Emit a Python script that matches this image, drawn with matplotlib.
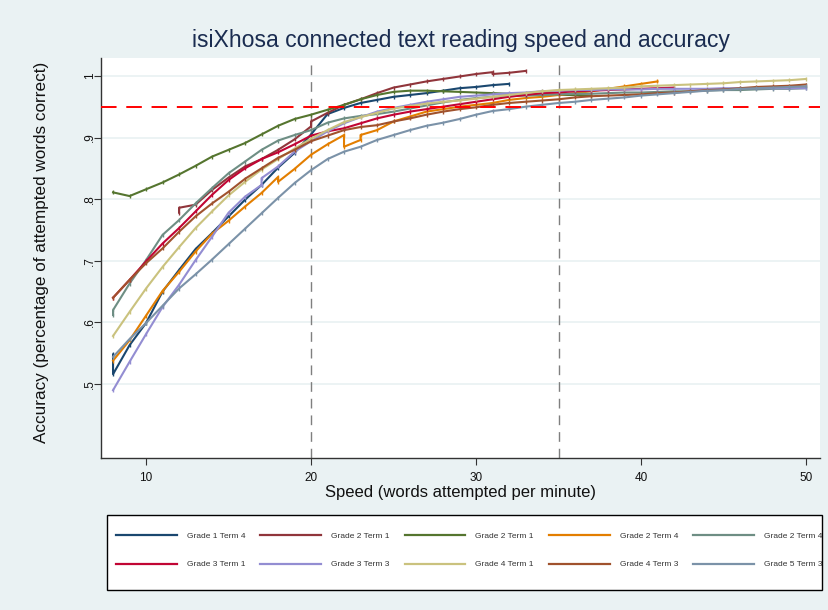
import matplotlib
matplotlib.use("Agg")
import matplotlib.pyplot as plt
from matplotlib.lines import Line2D
from matplotlib.patches import Rectangle

plt.rcParams['font.family'] = ['Liberation Sans', 'DejaVu Sans']

title = "isiXhosa connected text reading speed and accuracy"
xlabel = "Speed (words attempted per minute)"
ylabel = "Accuracy (percentage of attempted words correct)"

labels = ["Grade 1 Term 4", "Grade 2 Term 1", "Grade 2 Term 1", "Grade 2 Term 4", "Grade 2 Term 4",
          "Grade 3 Term 1", "Grade 3 Term 3", "Grade 4 Term 1", "Grade 4 Term 3", "Grade 5 Term 3"]
colors = ["#1a476f", "#90353b", "#55752f", "#e37e00", "#6e8e84",
          "#c10534", "#938dd2", "#cac27e", "#a0522d", "#7b92a8"]

g1t4_speed = [8, 8] + list(range(9, 33))
g1t4_acc = [0.548, 0.516, 0.563, 0.599, 0.650, 0.685, 0.719, 0.745, 0.772, 0.799, 0.823, 0.851,
            0.875, 0.905, 0.938, 0.948, 0.956, 0.961, 0.966, 0.969, 0.972, 0.976, 0.980, 0.982,
            0.985, 0.987]

g2t1a_speed = [12, 12] + list(range(13, 21)) + [20] + list(range(21, 32)) + [31, 32, 33]
g2t1a_acc = [0.778, 0.786, 0.791, 0.815, 0.835, 0.853, 0.865, 0.880, 0.897, 0.918, 0.926,
             0.940, 0.953, 0.962, 0.972, 0.981, 0.986, 0.991, 0.995, 0.999, 1.003, 1.006,
             1.003, 1.005, 1.008]

g2t1b_speed = list(range(8, 38))
g2t1b_acc = [0.811, 0.805, 0.816, 0.827, 0.840, 0.854, 0.869, 0.880, 0.891, 0.905, 0.919,
             0.930, 0.937, 0.945, 0.953, 0.962, 0.969, 0.974, 0.976, 0.976, 0.975, 0.974,
             0.973, 0.972, 0.971, 0.970, 0.970, 0.969, 0.969, 0.968]

g2t4a_speed = list(range(8, 19)) + [18] + list(range(19, 23)) + [22, 23] + list(range(23, 42))
g2t4a_acc = [0.538, 0.571, 0.611, 0.651, 0.682, 0.715, 0.744, 0.765, 0.788, 0.810, 0.836,
             0.828, 0.849, 0.872, 0.889, 0.904, 0.885, 0.896, 0.904, 0.912, 0.926, 0.934,
             0.942, 0.946, 0.950, 0.953, 0.956, 0.961, 0.964, 0.966, 0.969, 0.972, 0.975,
             0.979, 0.983, 0.987, 0.991]

g2t4b_speed = [8] + list(range(8, 51))
g2t4b_acc = [0.612, 0.620, 0.663, 0.701, 0.742, 0.766, 0.793, 0.818, 0.842, 0.861, 0.880,
             0.895, 0.904, 0.912, 0.924, 0.931, 0.935, 0.938, 0.942, 0.947, 0.952, 0.957,
             0.961, 0.964, 0.966, 0.967, 0.968, 0.969, 0.970, 0.971, 0.971, 0.972, 0.973,
             0.973, 0.974, 0.975, 0.975, 0.976, 0.977, 0.977, 0.978, 0.979, 0.979, 0.980]

g3t1_speed = list(range(8, 43))
g3t1_acc = [0.640, 0.669, 0.699, 0.728, 0.753, 0.780, 0.807, 0.831, 0.850, 0.865, 0.876,
            0.889, 0.903, 0.910, 0.915, 0.923, 0.931, 0.937, 0.942, 0.946, 0.950, 0.954,
            0.958, 0.962, 0.966, 0.969, 0.972, 0.973, 0.975, 0.976, 0.977, 0.978, 0.979,
            0.980, 0.981]

g3t3_speed = list(range(8, 18)) + list(range(17, 51))
g3t3_acc = [0.490, 0.536, 0.581, 0.625, 0.661, 0.701, 0.739, 0.778, 0.804, 0.823, 0.834,
            0.853, 0.877, 0.894, 0.910, 0.923, 0.933, 0.942, 0.948, 0.953, 0.958, 0.962,
            0.966, 0.968, 0.970, 0.972, 0.973, 0.975, 0.976, 0.977, 0.977, 0.978, 0.978,
            0.978, 0.979, 0.979, 0.979, 0.979, 0.980, 0.980, 0.980, 0.980, 0.980, 0.980]

g4t1_speed = list(range(8, 51))
g4t1_acc = [0.578, 0.617, 0.655, 0.690, 0.722, 0.753, 0.780, 0.806, 0.828, 0.848, 0.865,
            0.882, 0.898, 0.912, 0.925, 0.933, 0.940, 0.947, 0.951, 0.955, 0.958, 0.960,
            0.963, 0.966, 0.969, 0.972, 0.975, 0.977, 0.978, 0.979, 0.980, 0.981, 0.983,
            0.984, 0.985, 0.986, 0.987, 0.988, 0.990, 0.991, 0.992, 0.993, 0.995]

g4t3_speed = list(range(8, 51))
g4t3_acc = [0.640, 0.669, 0.696, 0.720, 0.747, 0.772, 0.793, 0.812, 0.833, 0.850, 0.867,
            0.880, 0.894, 0.903, 0.912, 0.917, 0.920, 0.926, 0.931, 0.937, 0.942, 0.946,
            0.949, 0.953, 0.956, 0.958, 0.960, 0.962, 0.965, 0.967, 0.968, 0.969, 0.970,
            0.972, 0.973, 0.975, 0.977, 0.978, 0.980, 0.982, 0.983, 0.984, 0.986]

g5t3_speed = list(range(8, 51))
g5t3_acc = [0.544, 0.573, 0.599, 0.627, 0.655, 0.678, 0.702, 0.727, 0.752, 0.777, 0.802,
            0.826, 0.847, 0.865, 0.877, 0.885, 0.896, 0.904, 0.912, 0.919, 0.924, 0.930,
            0.937, 0.943, 0.946, 0.950, 0.953, 0.956, 0.958, 0.961, 0.963, 0.965, 0.968,
            0.970, 0.972, 0.974, 0.976, 0.977, 0.979, 0.980, 0.981, 0.982, 0.983]

series_speed = [g1t4_speed, g2t1a_speed, g2t1b_speed, g2t4a_speed, g2t4b_speed,
                g3t1_speed, g3t3_speed, g4t1_speed, g4t3_speed, g5t3_speed]
series_acc = [g1t4_acc, g2t1a_acc, g2t1b_acc, g2t4a_acc, g2t4b_acc,
              g3t1_acc, g3t3_acc, g4t1_acc, g4t3_acc, g5t3_acc]

threshold_acc = 0.95
ref_speeds = [20, 35]
xticks = [10, 20, 30, 40, 50]
yticks = [0.5, 0.6, 0.7, 0.8, 0.9, 1.0]
yticklabels = [".5", ".6", ".7", ".8", ".9", "1"]

BG = "#eaf2f3"
W, H = 829, 610
fig = plt.figure(figsize=(W / 100, H / 100), dpi=100, facecolor=BG)
ax = fig.add_axes([101 / W, 1 - 458 / H, (820 - 101) / W, 400 / H])
ax.set_facecolor("white")

for yt in yticks:
    ax.axhline(yt, color=BG, lw=1.3, zorder=0)

for sp, ac, c in zip(series_speed, series_acc, colors):
    ax.plot(sp, ac, color=c, lw=1.5, marker="|", ms=3, mew=1, zorder=3)

for rs in ref_speeds:
    ax.axvline(rs, color="#7f7f7f", lw=1.0, dashes=(7, 5), zorder=2)
ax.axhline(threshold_acc, color="#ff0000", lw=1.4, dashes=(8, 5), zorder=4)

ax.set_xlim(7.27, 50.85)
ax.set_ylim(0.380, 1.029)
ax.set_xticks(xticks)
ax.set_yticks(yticks)
ax.set_yticklabels(yticklabels, rotation=90, va="center")
ax.tick_params(axis="both", direction="out", length=5, width=0.8, color="#333333",
               labelsize=8.5, labelcolor="#111111")
ax.tick_params(axis="x", pad=5)
ax.tick_params(axis="y", pad=-1.5)
for s in ["top", "right"]:
    ax.spines[s].set_visible(False)
for s in ["left", "bottom"]:
    ax.spines[s].set_color("#333333")
    ax.spines[s].set_linewidth(1.0)

ax.set_xlabel(xlabel, fontsize=12, color="#111111", va="center")
ax.xaxis.set_label_coords(0.5, -(493 - 458) / 400)
ax.set_ylabel(ylabel, fontsize=12.3, color="#111111", va="center")
ax.yaxis.set_label_coords(-(101 - 42) / 719, (458 - 252) / 400)
fig.text(461 / W, 1 - 41 / H, title, fontsize=16.6, color="#1a2c50", ha="center", va="center")

# legend frame
fig.patches.append(Rectangle((107 / W, 1 - 590 / H), (822 - 107) / W, 75 / H,
                             transform=fig.transFigure, facecolor="white",
                             edgecolor="black", lw=1.0, zorder=1))
handles = [Line2D([], [], color=c, lw=1.6) for c in colors]
order = [0, 5, 1, 6, 2, 7, 3, 8, 4, 9]
leg = fig.legend([handles[i] for i in order], [labels[i] for i in order], ncol=5,
                 loc="upper left", bbox_to_anchor=(116 / W, 1 - 532 / H),
                 fontsize=6, frameon=False, handlelength=7.3, handletextpad=1.2,
                 borderpad=0, borderaxespad=0, labelspacing=2.5, columnspacing=1.8,
                 labelcolor="#333333")
leg.set_zorder(2)

fig.savefig("out.png", dpi=100, facecolor=BG)
